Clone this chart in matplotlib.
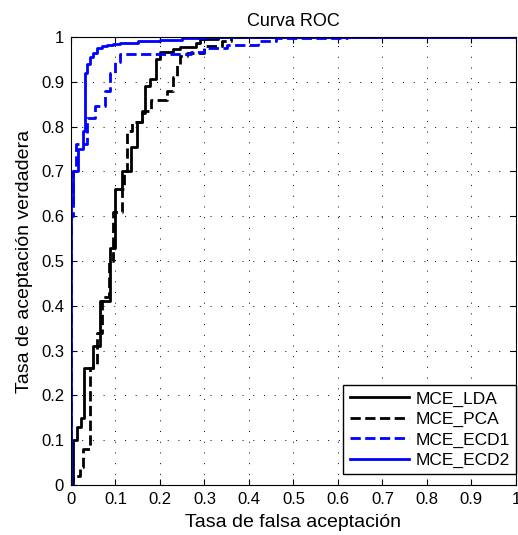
import matplotlib
matplotlib.use('Agg')
import matplotlib.pyplot as plt
import numpy as np

plt.rcParams['font.family'] = ['Liberation Sans', 'DejaVu Sans']

# ROC curves (false acceptance rate, true acceptance rate)
lda_x = [0, 0.005, 0.013, 0.022, 0.029, 0.05, 0.065, 0.088, 0.1, 0.115, 0.135, 0.148, 0.16,
         0.167, 0.178, 0.19, 0.2, 0.23, 0.245, 0.28, 0.29, 0.33, 1.0]
lda_y = [0.01, 0.10, 0.13, 0.15, 0.26, 0.31, 0.41, 0.53, 0.66, 0.70, 0.755, 0.81, 0.83,
         0.89, 0.905, 0.95, 0.967, 0.972, 0.977, 0.987, 0.995, 1.0, 1.0]

pca_x = [0, 0.005, 0.02, 0.027, 0.043, 0.05, 0.058, 0.07, 0.085, 0.095, 0.115, 0.12, 0.126,
         0.137, 0.16, 0.18, 0.215, 0.23, 0.238, 0.245, 0.26, 0.3, 0.34, 0.36, 1.0]
pca_y = [0, 0.02, 0.04, 0.08, 0.26, 0.27, 0.34, 0.42, 0.50, 0.61, 0.66, 0.70, 0.79,
         0.81, 0.835, 0.86, 0.88, 0.91, 0.94, 0.958, 0.965, 0.98, 0.99, 1.0, 1.0]

ecd1_x = [0, 0.005, 0.012, 0.036, 0.055, 0.077, 0.088, 0.1, 0.11, 0.27, 0.3, 0.35, 0.42,
          0.46, 0.62, 1.0]
ecd1_y = [0.6, 0.70, 0.76, 0.82, 0.845, 0.88, 0.92, 0.945, 0.962, 0.966, 0.975, 0.982, 0.99,
          0.997, 1.0, 1.0]

ecd2_x = [0, 0.005, 0.016, 0.027, 0.032, 0.036, 0.043, 0.05, 0.058, 0.07, 0.08, 0.095,
          0.11, 0.15, 0.2, 0.25, 0.3, 1.0]
ecd2_y = [0.63, 0.70, 0.75, 0.79, 0.92, 0.94, 0.955, 0.965, 0.975, 0.979, 0.982, 0.985,
          0.987, 0.99, 0.993, 0.997, 1.0, 1.0]

ticks = np.arange(0, 1.01, 0.1)
tick_labels = ['0', '0.1', '0.2', '0.3', '0.4', '0.5', '0.6', '0.7', '0.8', '0.9', '1']

fig = plt.figure(figsize=(5.18, 5.35), dpi=100)
ax = fig.add_axes([0.137, 0.0935, 0.859, 0.8375])

ax.plot([0] + lda_x, [0] + lda_y, color='black', lw=2, drawstyle='steps-post', label='MCE_LDA')
ax.plot([0] + pca_x, [0] + pca_y, color='black', lw=2, ls='--', drawstyle='steps-post', label='MCE_PCA')
ax.plot([0] + ecd1_x, [0] + ecd1_y, color='blue', lw=2, ls='--', drawstyle='steps-post', label='MCE_ECD1')
ax.plot([0] + ecd2_x, [0] + ecd2_y, color='blue', lw=2, drawstyle='steps-post', label='MCE_ECD2')

ax.set_xlim(0, 1)
ax.set_ylim(0, 1)
ax.set_xticks(ticks)
ax.set_yticks(ticks)
ax.set_xticklabels(tick_labels)
ax.set_yticklabels(tick_labels)
ax.tick_params(direction='in', top=True, right=True, labelsize=12, length=4, pad=5)
ax.grid(color='black', linestyle=(0, (1, 10)), linewidth=0.7)
ax.set_xlabel('Tasa de falsa aceptación', fontsize=14, labelpad=5)
ax.set_ylabel('Tasa de aceptación verdadera', fontsize=14, labelpad=6)
ax.set_title('Curva ROC', fontsize=13, pad=8)

leg = ax.legend(loc='lower right', bbox_to_anchor=(1.0, 0.024), fontsize=12.5, fancybox=False,
                framealpha=1, edgecolor='black', handlelength=3.4, borderpad=0.35,
                labelspacing=0.3, handletextpad=0.4, borderaxespad=0.0)
leg.get_frame().set_linewidth(1)

fig.savefig('out.png', dpi=100)
